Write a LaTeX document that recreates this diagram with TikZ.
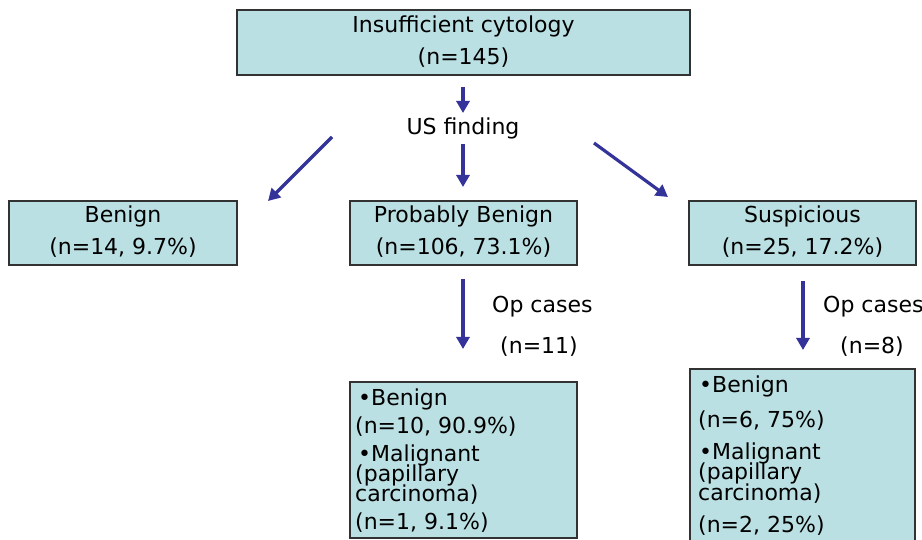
\documentclass[tikz,border=0pt]{standalone}
\usepackage{fontspec}
\setmainfont{DejaVu Sans}
\usetikzlibrary{arrows.meta}
\definecolor{boxfill}{RGB}{187,224,227}
\definecolor{boxline}{RGB}{50,50,50}
\definecolor{arrowblue}{RGB}{51,51,153}
\begin{document}
\begin{tikzpicture}[x=1pt,y=-1pt,
  box/.style={draw=boxline, line width=1.1pt, fill=boxfill, inner sep=0pt, outer sep=0pt},
  txt/.style={anchor=base, inner sep=0pt, font=\fontsize{22}{24}\selectfont},
  ltxt/.style={anchor=base west, inner sep=0pt, font=\fontsize{22}{24}\selectfont},
  flow/.style={draw=arrowblue, line width=3.2pt, -{Triangle[length=12pt,width=13pt]}}
]
\useasboundingbox (0,0) rectangle (922,540);
% boxes
\node[box, minimum width=453pt, minimum height=65pt] (top) at (463.5,42.5) {};
\node[box, minimum width=228pt, minimum height=64pt] (ben) at (123,233) {};
\node[box, minimum width=227pt, minimum height=64pt] (pb) at (463.5,233) {};
\node[box, minimum width=227pt, minimum height=64pt] (sus) at (802.5,233) {};
\node[box, minimum width=227pt, minimum height=156pt] (pbres) at (463.5,460) {};
\node[box, minimum width=225pt, minimum height=174pt] (susres) at (802.5,456) {};
% texts
\node[txt] (t1) at (463.5,33) {Insufficient cytology};
\node[txt] (t2) at (463.5,65) {(n=145)};
\node[txt] (us) at (463,135) {US finding};
\node[txt] (b1) at (123,223) {Benign};
\node[txt] (b2) at (123,255) {(n=14, 9.7\%)};
\node[txt] (p1) at (463.5,223) {Probably Benign};
\node[txt] (p2) at (463.5,255) {(n=106, 73.1\%)};
\node[txt] (s1) at (802.5,223) {Suspicious};
\node[txt] (s2) at (802.5,255) {(n=25, 17.2\%)};
\node[ltxt] (op1) at (492,313) {Op cases};
\node[txt] (op1n) at (539,353) {(n=11)};
\node[ltxt] (op2) at (823,313) {Op cases};
\node[txt] (op2n) at (872,353) {(n=8)};
% PB results
\node[ltxt] (pr1) at (358,405) {•Benign};
\node[ltxt] (pr2) at (355,433) {(n=10, 90.9\%)};
\node[ltxt] (pr3) at (358,461) {•Malignant};
\node[ltxt] (pr4) at (355,481) {(papillary};
\node[ltxt] (pr5) at (355,501) {carcinoma)};
\node[ltxt] (pr6) at (355,529) {(n=1, 9.1\%)};
% Suspicious results
\node[ltxt] (sr1) at (699,392) {•Benign};
\node[ltxt] (sr2) at (698,427) {(n=6, 75\%)};
\node[ltxt] (sr3) at (699,459) {•Malignant};
\node[ltxt] (sr4) at (698,479) {(papillary};
\node[ltxt] (sr5) at (698,500) {carcinoma)};
\node[ltxt] (sr6) at (698,532) {(n=2, 25\%)};
% arrow end points
\coordinate (a1s) at (463,87);
\coordinate (a1e) at (463,113);
\coordinate (a2s) at (463,144);
\coordinate (a2e) at (463,187);
\coordinate (a3s) at (332,137);
\coordinate (a3e) at (268,201);
\coordinate (a4s) at (594,143);
\coordinate (a4e) at (668,197);
\coordinate (a5s) at (463,279);
\coordinate (a5e) at (463,349);
\coordinate (a6s) at (803,281);
\coordinate (a6e) at (803,350);
\draw[flow] (a1s) -- (a1e);
\draw[flow] (a2s) -- (a2e);
\draw[flow] (a3s) -- (a3e);
\draw[flow] (a4s) -- (a4e);
\draw[flow] (a5s) -- (a5e);
\draw[flow] (a6s) -- (a6e);
\end{tikzpicture}
\end{document}
